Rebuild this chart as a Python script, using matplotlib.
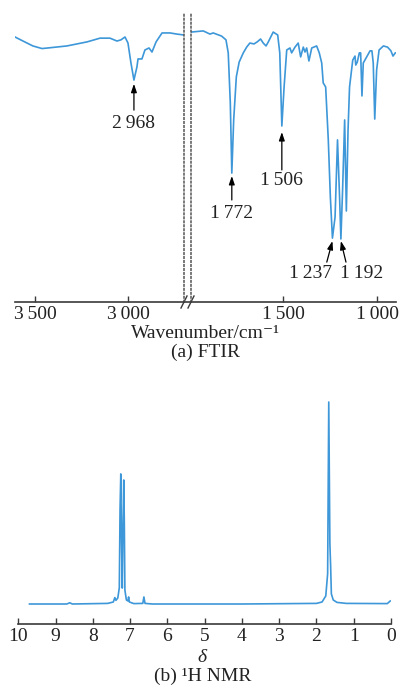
import numpy as np
import matplotlib
matplotlib.use('Agg')
from matplotlib import pyplot as plt

plt.rcParams['font.family'] = ['Liberation Serif', 'DejaVu Serif']
plt.rcParams['mathtext.fontset'] = 'stix'

# FTIR, high wavenumber part (left of the break)
ir_wn_hi = [3607, 3564, 3511, 3462, 3430, 3328, 3220, 3150, 3097, 3059, 3038, 3016, 3000,
            2984, 2968, 2952, 2946, 2925, 2909, 2887, 2871, 2849, 2817, 2774, 2737, 2700]
ir_t_hi = [91.7, 90.3, 88.6, 87.7, 87.9, 88.6, 90.0, 91.3, 91.3, 90.3, 90.7, 91.7, 89.6,
           82.7, 76.8, 81.3, 84.1, 84.1, 87.2, 87.9, 86.5, 90.0, 93.1, 93.1, 92.7, 92.4]

# FTIR, low wavenumber part (right of the break)
ir_wn_lo = [1989, 1924, 1888, 1871, 1826, 1803, 1791, 1780, 1772, 1762, 1748, 1733, 1711,
            1693, 1676, 1654, 1637, 1619, 1605, 1590, 1578, 1552, 1528, 1517, 1506, 1494,
            1480, 1463, 1454, 1436, 1419, 1406, 1392, 1383, 1374, 1362, 1347, 1321, 1307,
            1294, 1286, 1273, 1259, 1248, 1237, 1223, 1210, 1199, 1192, 1183, 1172, 1163,
            1154, 1146, 1129, 1117, 1113, 1105, 1094, 1087, 1080, 1073, 1055, 1037, 1027,
            1020, 1012, 1002, 989, 966, 944, 926, 915, 903, 894]
ir_t_lo = [93.4, 93.8, 92.7, 93.1, 92.0, 90.7, 86.2, 68.9, 44.6, 63.0, 77.9, 83.0, 86.2,
           88.2, 89.6, 89.3, 90.0, 91.0, 89.6, 88.6, 90.0, 93.4, 92.4, 86.2, 60.9, 74.4,
           87.2, 87.9, 86.2, 88.2, 89.6, 84.8, 88.2, 86.5, 87.9, 83.4, 87.9, 88.6, 86.2,
           82.7, 75.8, 74.4, 56.1, 36.3, 22.1, 29.4, 56.1, 36.3, 21.8, 38.8, 63.0, 31.5,
           59.5, 74.4, 83.7, 85.1, 82.0, 83.0, 86.2, 86.2, 71.3, 82.7, 84.8, 86.9, 86.9,
           82.7, 63.3, 80.3, 87.2, 88.6, 88.2, 86.9, 85.1, 86.2, 86.2]

ir_peaks = [2968, 1772, 1506, 1237, 1192]
ir_peak_labels = ['2\u2009968', '1\u2009772', '1\u2009506', '1\u2009237', '1\u2009192']
ir_ticks_hi = [3500, 3000]
ir_ticks_lo = [1500, 1000]
ir_tick_labels_hi = ['3\u2009500', '3\u2009000']
ir_tick_labels_lo = ['1\u2009500', '1\u2009000']

# 1H NMR
nmr_ppm = [9.70, 8.70, 8.62, 8.55, 7.60, 7.45, 7.41, 7.38, 7.33, 7.29, 7.27, 7.25, 7.23,
           7.21, 7.19, 7.17, 7.155, 7.14, 7.10, 7.06, 7.04, 7.02, 6.90, 6.66, 6.63, 6.60,
           6.40, 4.00, 2.00, 1.85, 1.75, 1.70, 1.67, 1.64, 1.62, 1.60, 1.55, 1.45, 1.20,
           0.10, 0.02]
nmr_int = [0.0, 0.0, 0.6, 0.0, 0.3, 1.0, 3.2, 1.8, 3.0, 8.0, 47.0, 64.4, 30.0,
           7.9, 40.0, 61.4, 40.0, 6.9, 2.0, 1.5, 3.5, 1.0, 0.2, 0.3, 3.5, 0.3,
           0.0, 0.0, 0.3, 1.0, 4.0, 15.0, 100.0, 30.0, 19.0, 5.0, 2.0, 0.8, 0.3,
           0.2, 1.5]
nmr_ticks = list(range(10, -1, -1))

W, H = 399, 688
fig = plt.figure(figsize=(W / 100, H / 100), dpi=100)

def box(x0, y0, x1, y1):
    return [x0 / W, 1 - y1 / H, (x1 - x0) / W, (y1 - y0) / H]

line_c = '#3d97d8'
axis_c = '#3a3a3a'
txt_c = '#222222'

ax_hi = fig.add_axes(box(15, 13, 184, 302))
ax_lo = fig.add_axes(box(191, 13, 396, 302))
ax_nmr = fig.add_axes(box(18.3, 398, 391, 624))

for ax in [ax_hi, ax_lo, ax_nmr]:
    for s in ['top', 'left', 'right']:
        ax.spines[s].set_visible(False)
    ax.spines['bottom'].set_color(axis_c)
    ax.spines['bottom'].set_linewidth(1.2)
    ax.set_yticks([])
    ax.tick_params(axis='x', direction='in', length=4.5, width=1, color=axis_c,
                   labelsize=14, pad=3, labelcolor=txt_c)
    ax.patch.set_alpha(0)

ax_hi.plot(ir_wn_hi, ir_t_hi, color=line_c, lw=1.2)
ax_lo.plot(ir_wn_lo, ir_t_lo, color=line_c, lw=1.2)
ax_hi.set_xlim(3607, 2699)
ax_lo.set_xlim(1989, 899)
for ax in [ax_hi, ax_lo]:
    ax.set_ylim(0, 100)
ax_hi.set_xticks(ir_ticks_hi, ir_tick_labels_hi)
ax_lo.set_xticks(ir_ticks_lo, ir_tick_labels_lo)

# dotted break lines
for ax, side in [(ax_hi, 'right'), (ax_lo, 'left')]:
    sp = ax.spines[side]
    sp.set_visible(True)
    sp.set_linestyle((0, (1.0, 1.6)))
    sp.set_linewidth(1.1)
    sp.set_color('#555555')

# axis between the two parts and the // marks
ax_hi.plot([1, 1 + 7 / 169], [0, 0], transform=ax_hi.transAxes, color=axis_c,
           lw=1.2, clip_on=False)
dx, dy = 3 / 169, 6 / 289
ax_hi.plot([1 - dx, 1 + dx], [-dy, dy], transform=ax_hi.transAxes, color=axis_c,
           lw=1, clip_on=False)
dx2 = 3 / 205
ax_lo.plot([-dx2, dx2], [-dy, dy], transform=ax_lo.transAxes, color=axis_c,
           lw=1, clip_on=False)

# peak arrows: (axes, tip, tail, label pos)
arrow_kw = dict(arrowstyle='-|>,head_length=0.5,head_width=0.17', color='black',
                lw=0.9, shrinkA=0, shrinkB=0)
ann = [
    (ax_hi, (2968, 75.5), (2968, 66.4), (2968, 61.9)),
    (ax_lo, (1772, 43.6), (1772, 35.3), (1772, 30.6)),
    (ax_lo, (1506, 58.8), (1506, 45.7), (1506, 42.2)),
    (ax_lo, (1237, 21.1), (1267, 13.8), (1355, 10.0)),
    (ax_lo, (1192, 21.1), (1165, 13.8), (1080, 10.0)),
]
for (ax, tip, tail, tpos), lab in zip(ann, ir_peak_labels):
    ax.annotate('', xy=tip, xytext=tail, arrowprops=arrow_kw, annotation_clip=False)
    ax.text(tpos[0], tpos[1], lab, ha='center', va='center', fontsize=14, color=txt_c)

fig.text(205.5 / W, 1 - 334 / H, 'Wavenumber/cm\u207b\u00b9', ha='center', va='center',
         fontsize=14, color=txt_c)
fig.text(205.5 / W, 1 - 352 / H, '(a) FTIR', ha='center', va='center', fontsize=14,
         color=txt_c)

ax_nmr.plot(nmr_ppm, nmr_int, color=line_c, lw=1.2)
ax_nmr.set_xlim(10, 0)
ax_nmr.set_ylim(-9.9, 102)
ax_nmr.set_xticks(nmr_ticks, [str(t) for t in nmr_ticks])
fig.text(202 / W, 1 - 657 / H, '\u03b4', ha='center', va='center', fontsize=14,
         style='italic', color=txt_c)
fig.text(203 / W, 1 - 676 / H, '(b) \u00b9H NMR', ha='center', va='center',
         fontsize=14, color=txt_c)

fig.savefig('out.png', dpi=100)
